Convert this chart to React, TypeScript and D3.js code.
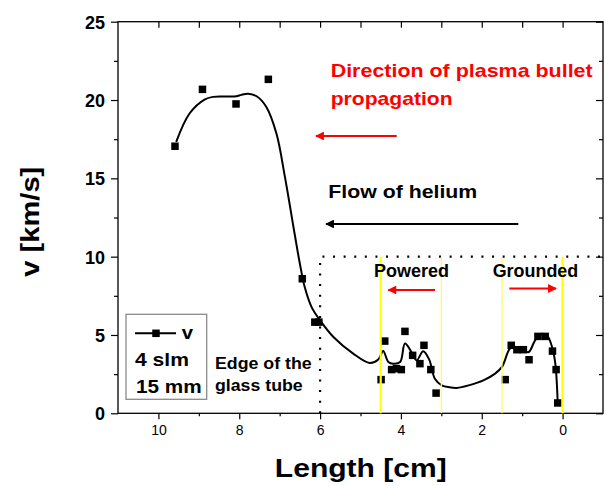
import React, { useEffect, useRef } from "react";
import * as d3 from "d3";

// Measured data points (Length [cm], v [km/s])
const pointLength = [9.59, 8.91, 8.08, 7.28, 6.44, 6.13, 6.03, 4.49, 4.40, 4.23, 4.11, 3.99, 3.90, 3.71, 3.53, 3.43, 3.26, 3.13, 1.42, 1.27, 1.13, 0.97, 0.83, 0.61, 0.43, 0.25, 0.16, 0.12];
const pointV = [17.05, 20.68, 19.75, 21.32, 8.59, 5.82, 5.82, 2.15, 4.61, 2.79, 2.85, 2.79, 5.23, 3.70, 3.17, 4.34, 2.79, 1.29, 2.15, 4.34, 4.06, 4.06, 3.42, 4.91, 4.91, 3.97, 2.79, 0.66];

// Smoothed fit curve
const curveLength = [9.56, 9.23, 8.86, 8.65, 8.30, 8.07, 7.95, 7.78, 7.57, 7.33, 7.08, 6.87, 6.63, 6.50, 6.38, 6.21, 6.00, 5.67, 5.18, 4.77, 4.56, 4.44, 4.31, 4.19, 4.02, 3.90, 3.74, 3.61, 3.45, 3.30, 3.16, 2.99, 2.80, 2.62, 2.30, 1.96, 1.67, 1.50, 1.30, 1.17, 0.97, 0.84, 0.68, 0.55, 0.39, 0.26, 0.18, 0.12];
const curveV = [17.33, 19.14, 20.03, 20.20, 20.22, 20.24, 20.33, 20.40, 20.24, 19.56, 17.86, 15.09, 11.46, 9.55, 8.06, 6.78, 5.93, 4.87, 3.81, 3.21, 3.43, 3.98, 3.28, 3.17, 3.27, 4.45, 3.91, 3.38, 3.96, 3.43, 2.21, 1.79, 1.66, 1.62, 1.80, 2.10, 2.53, 2.96, 4.13, 4.23, 4.02, 3.91, 4.66, 5.04, 4.98, 4.23, 3.17, 0.62];

const xMajorTicks = [10, 8, 6, 4, 2, 0];
const xMinorTicks = [9, 7, 5, 3, 1];
const yMajorTicks = [0, 5, 10, 15, 20, 25];
const yMinorTicks = [2.5, 7.5, 12.5, 17.5, 22.5];
const electrodeThick = [4.5, 0];
const electrodeThin = [3.0, 1.5];
const tubeEdge = 6;
const boxTop = 10;

const FONT = "'Liberation Sans', Arial, sans-serif";

export default function App() {
  const ref = useRef<SVGSVGElement | null>(null);

  useEffect(() => {
    const svg = d3.select(ref.current);
    svg.selectAll("*").remove();

    const left = 118, right = 603, top = 21.7, bottom = 413.3;
    const x = d3.scaleLinear().domain([11, -1]).range([left, right]);
    const y = d3.scaleLinear().domain([0, 25]).range([bottom, top]);

    const defs = svg.append("defs");
    const mk = (id: string, color: string) =>
      defs.append("marker").attr("id", id).attr("viewBox", "0 0 10 10")
        .attr("refX", 9).attr("refY", 5).attr("markerWidth", 5).attr("markerHeight", 4)
        .attr("markerUnits", "strokeWidth").attr("orient", "auto")
        .append("path").attr("d", "M0,0 L10,5 L0,10 Z").attr("fill", color);
    mk("arrRed", "#ff0000");
    mk("arrBlack", "#000000");

    // Axes
    const tickStyle = (g: any) => g.selectAll("line").attr("stroke", "#000").attr("stroke-width", 1.2);
    const axisB = svg.append("g").attr("transform", `translate(0,${bottom})`)
      .call(d3.axisBottom(x).tickValues(xMajorTicks).tickSize(6).tickPadding(6).tickFormat(d3.format("d")));
    axisB.select(".domain").remove();
    axisB.selectAll("text").attr("font-family", FONT).attr("font-size", 14).attr("fill", "#000");
    tickStyle(axisB);
    const axisBm = svg.append("g").attr("transform", `translate(0,${bottom})`)
      .call(d3.axisBottom(x).tickValues(xMinorTicks).tickSize(3).tickFormat(() => ""));
    axisBm.select(".domain").remove();
    tickStyle(axisBm);

    const axisT = svg.append("g").attr("transform", `translate(0,${top})`)
      .call(d3.axisBottom(x).tickValues([...xMajorTicks, ...xMinorTicks]).tickSize(6).tickFormat(() => ""));
    axisT.select(".domain").remove();
    tickStyle(axisT);

    const axisL = svg.append("g").attr("transform", `translate(${left},0)`)
      .call(d3.axisLeft(y).tickValues(yMajorTicks).tickSize(7).tickPadding(6).tickFormat(d3.format("d")));
    axisL.select(".domain").remove();
    axisL.selectAll("text").attr("font-family", FONT).attr("font-size", 18).attr("font-weight", "bold").attr("fill", "#000").attr("dy", "0.36em");
    tickStyle(axisL);
    const axisLm = svg.append("g").attr("transform", `translate(${left},0)`)
      .call(d3.axisLeft(y).tickValues(yMinorTicks).tickSize(4).tickFormat(() => ""));
    axisLm.select(".domain").remove();
    tickStyle(axisLm);

    const axisR = svg.append("g").attr("transform", `translate(${right},0)`)
      .call(d3.axisLeft(y).tickValues(yMajorTicks).tickSize(7).tickFormat(() => ""));
    axisR.select(".domain").remove();
    tickStyle(axisR);
    const axisRm = svg.append("g").attr("transform", `translate(${right},0)`)
      .call(d3.axisLeft(y).tickValues(yMinorTicks).tickSize(4).tickFormat(() => ""));
    axisRm.select(".domain").remove();
    tickStyle(axisRm);

    // Frame
    svg.append("rect").attr("x", left).attr("y", top).attr("width", right - left).attr("height", bottom - top)
      .attr("fill", "none").attr("stroke", "#000").attr("stroke-width", 1.3);

    // Dotted region
    svg.append("path")
      .attr("d", `M${x(tubeEdge)},${y(0)} L${x(tubeEdge)},${y(boxTop)} L${x(-1)},${y(boxTop)}`)
      .attr("fill", "none").attr("stroke", "#000").attr("stroke-width", 2.2).attr("stroke-dasharray", "2 8.6");

    // Fit curve
    const curveData = curveLength.map((l, i) => [l, curveV[i]] as [number, number]);
    const line = d3.line<[number, number]>().x(d => x(d[0])).y(d => y(d[1])).curve(d3.curveCatmullRom.alpha(0.5));
    svg.append("path").attr("d", line(curveData) as string).attr("fill", "none").attr("stroke", "#000").attr("stroke-width", 2);

    // Points
    const s = 7.5;
    svg.append("g").selectAll("rect").data(pointLength.map((l, i) => [l, pointV[i]]))
      .join("rect")
      .attr("x", d => x(d[0]) - s / 2).attr("y", d => y(d[1]) - s / 2)
      .attr("width", s).attr("height", s).attr("fill", "#000");

    // Electrode lines
    svg.append("g").selectAll("line").data(electrodeThick).join("line")
      .attr("x1", d => x(d)).attr("x2", d => x(d)).attr("y1", y(0)).attr("y2", y(boxTop))
      .attr("stroke", "#ffff00").attr("stroke-width", 2.2);
    svg.append("g").selectAll("line").data(electrodeThin).join("line")
      .attr("x1", d => x(d)).attr("x2", d => x(d)).attr("y1", y(0)).attr("y2", y(boxTop))
      .attr("stroke", "#ffff55").attr("stroke-width", 1.3);

    // Texts
    const txt = (t: string, tx: number, ty: number, size: number, len: number, color = "#000") =>
      svg.append("text").attr("x", tx).attr("y", ty).attr("font-family", FONT).attr("font-weight", "bold")
        .attr("font-size", size).attr("fill", color).attr("textLength", len).attr("lengthAdjust", "spacingAndGlyphs").text(t);

    txt("Direction of plasma bullet", 330.7, 77.3, 18.6, 262, "#ff0000");
    txt("propagation", 330.7, 105, 18.6, 122, "#ff0000");
    txt("Flow of helium", 328.3, 197.7, 18.6, 149);
    txt("Powered", 374, 276.7, 17.5, 75);
    txt("Grounded", 492.7, 276.7, 17.5, 85.6);
    txt("Edge of the", 215, 369.3, 16.8, 96.7);
    txt("glass tube", 215, 391, 16.8, 87.7);

    // Arrows
    const arrow = (x1: number, x2: number, yy: number, color: string, id: string, w: number) =>
      svg.append("line").attr("x1", x1).attr("x2", x2).attr("y1", yy).attr("y2", yy)
        .attr("stroke", color).attr("stroke-width", w).attr("marker-end", `url(#${id})`);
    arrow(396.7, 316, 136, "#ff0000", "arrRed", 2.2);
    arrow(518.3, 326, 224, "#000", "arrBlack", 2.2);
    arrow(435, 388.3, 290, "#ff0000", "arrRed", 2.2);
    arrow(509.3, 556, 288.5, "#ff0000", "arrRed", 2.2);

    // Legend
    svg.append("rect").attr("x", 126).attr("y", 314.3).attr("width", 80.7).attr("height", 85)
      .attr("fill", "#fff").attr("stroke", "#8a8a8a").attr("stroke-width", 1.3);
    svg.append("line").attr("x1", 135).attr("x2", 176).attr("y1", 333.3).attr("y2", 333.3)
      .attr("stroke", "#000").attr("stroke-width", 2);
    svg.append("rect").attr("x", 156 - s / 2).attr("y", 333.3 - s / 2).attr("width", s).attr("height", s).attr("fill", "#000");
    txt("v", 181.7, 339.3, 18.6, 11.3);
    txt("4 slm", 135, 366, 18.6, 54);
    txt("15 mm", 136, 392.7, 18.6, 65.7);

    // Axis titles
    svg.append("text").attr("x", 360.8).attr("y", 477.3).attr("text-anchor", "middle")
      .attr("font-family", FONT).attr("font-weight", "bold").attr("font-size", 25)
      .attr("textLength", 172).attr("lengthAdjust", "spacingAndGlyphs").text("Length [cm]");
    svg.append("text").attr("transform", "translate(39,221.7) rotate(-90)").attr("text-anchor", "middle")
      .attr("font-family", FONT).attr("font-weight", "bold").attr("font-size", 25)
      .attr("textLength", 110).attr("lengthAdjust", "spacingAndGlyphs").text("v [km/s]");
  }, []);

  return (
    <svg ref={ref} width={605} height={486}
      style={{ position: "absolute", left: 0, top: 0, background: "#fff" }} />
  );
}
